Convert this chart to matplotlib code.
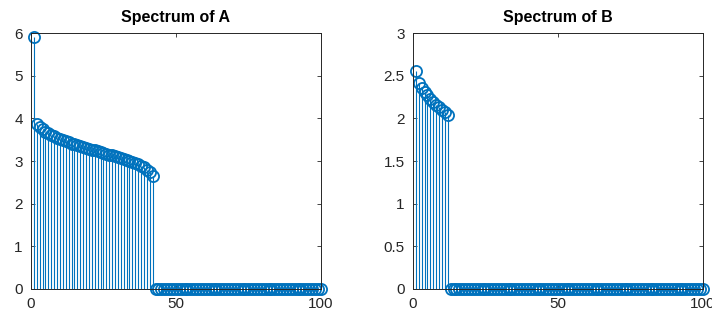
import numpy as np
import matplotlib.pyplot as plt
from matplotlib.ticker import FormatStrFormatter

# autovalores (espectro) de A e de B, indices 1..100
espectro_a = [5.9,
              3.87, 3.80, 3.74, 3.69, 3.65, 3.61, 3.58, 3.55, 3.52, 3.49,
              3.46, 3.44, 3.41, 3.39, 3.37, 3.35, 3.33, 3.31, 3.29, 3.27,
              3.25, 3.23, 3.21, 3.19, 3.17, 3.15, 3.13, 3.11, 3.09, 3.07,
              3.05, 3.03, 3.00, 2.98, 2.95, 2.92, 2.89, 2.85, 2.80, 2.74,
              2.66]
espectro_b = [2.55, 2.42, 2.36, 2.31, 2.27, 2.23, 2.19, 2.16, 2.13, 2.10,
              2.07, 2.04]
n_total = 100

y_a = espectro_a + [0.0] * (n_total - len(espectro_a))
y_b = espectro_b + [0.0] * (n_total - len(espectro_b))
indices = list(range(1, n_total + 1))

azul = '#0072BD'
cinza = '#262626'

plt.rcParams['font.family'] = ['Liberation Sans', 'DejaVu Sans']

fig = plt.figure(figsize=(7.12, 3.26), dpi=100)
ax1 = fig.add_axes([0.0435, 0.1135, 0.407, 0.785])
ax2 = fig.add_axes([0.580, 0.1135, 0.407, 0.785])

def desenha_stem(ax, y, ymax, yticks, titulo, fmt):
    marcadores, linhas, base = ax.stem(indices, y, basefmt='k-')
    plt.setp(linhas, color=azul, linewidth=0.8)
    plt.setp(marcadores, color=azul, marker='o', markerfacecolor='none',
             markersize=8, markeredgewidth=1.3, clip_on=False)
    plt.setp(base, color='black', linewidth=0.6)
    base.set_xdata([0, 100])
    ax.set_xlim(0, 100)
    ax.set_ylim(0, ymax)
    ax.set_xticks([0, 50, 100])
    ax.set_yticks(yticks)
    ax.yaxis.set_major_formatter(FormatStrFormatter(fmt))
    ax.tick_params(direction='in', top=True, right=True, length=3,
                   width=0.6, colors=cinza, labelsize=11, pad=6)
    for s in ax.spines.values():
        s.set_linewidth(0.7)
        s.set_color(cinza)
    ax.set_title(titulo, fontweight='bold', fontsize=11.5, pad=8)

desenha_stem(ax1, y_a, 6, [0, 1, 2, 3, 4, 5, 6], 'Spectrum of A', '%g')
desenha_stem(ax2, y_b, 3, [0, 0.5, 1, 1.5, 2, 2.5, 3], 'Spectrum of B', '%g')

fig.savefig('out.png', dpi=100)
